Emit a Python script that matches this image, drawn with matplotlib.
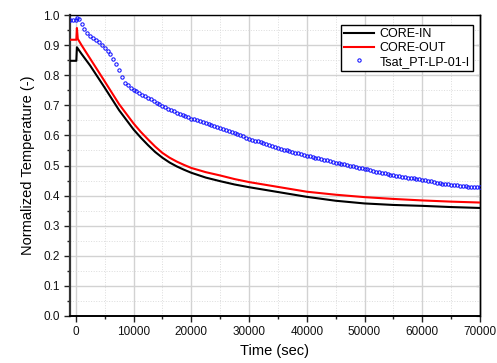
import numpy as np
import matplotlib
matplotlib.use('Agg')
import matplotlib.pyplot as plt
from matplotlib.ticker import MultipleLocator, FormatStrFormatter

plt.rcParams['font.family'] = ['Liberation Sans', 'DejaVu Sans']

# CORE-IN / CORE-OUT (time in sec, normalized temperature)
t_core_in = [-1000, 100, 200, 1000, 2500, 5000, 7500, 10000, 11250, 12500, 13750, 15000,
             16250, 17500, 18750, 20000, 22500, 25000, 27500, 30000, 35000, 40000,
             45000, 50000, 55000, 60000, 65000, 70000]
core_in = [0.848, 0.848, 0.893, 0.871, 0.832, 0.759, 0.684, 0.620, 0.593, 0.568, 0.545, 0.526,
           0.510, 0.497, 0.486, 0.476, 0.460, 0.448, 0.437, 0.428, 0.412, 0.396,
           0.383, 0.374, 0.369, 0.366, 0.362, 0.359]

t_core_out = [-1000, 100, 200, 350, 1000, 2500, 5000, 7500, 10000, 11250, 12500, 13750,
              15000, 16250, 17500, 18750, 20000, 22500, 25000, 27500, 30000, 35000,
              40000, 45000, 50000, 55000, 60000, 65000, 70000]
core_out = [0.918, 0.918, 0.957, 0.921, 0.900, 0.855, 0.780, 0.704, 0.640, 0.612, 0.587, 0.563,
            0.542, 0.526, 0.513, 0.502, 0.492, 0.478, 0.467, 0.455, 0.445, 0.429,
            0.413, 0.403, 0.395, 0.389, 0.384, 0.380, 0.377]

# Tsat_PT-LP-01-I points
t_tsat = [-1000, -500, 0, 250, 500, 1000, 1500, 2000, 2500, 3000, 3500, 4000, 4500,
          5000, 5500, 6000, 6500, 7000, 7500, 8000, 8500, 9000, 9500,
          10000, 10500, 11000, 11500, 12000, 12500, 13000, 13500, 14000, 14500,
          15000, 15500, 16000, 16500, 17000, 17500, 18000, 18500, 19000, 19500,
          20000, 20500, 21000, 21500, 22000, 22500, 23000, 23500, 24000, 24500,
          25000, 25500, 26000, 26500, 27000, 27500, 28000, 28500, 29000, 29500,
          30000, 30500, 31000, 31500, 32000, 32500, 33000, 33500, 34000, 34500,
          35000, 35500, 36000, 36500, 37000, 37500, 38000, 38500, 39000, 39500,
          40000, 40500, 41000, 41500, 42000, 42500, 43000, 43500, 44000, 44500,
          45000, 45500, 46000, 46500, 47000, 47500, 48000, 48500, 49000, 49500,
          50000, 50500, 51000, 51500, 52000, 52500, 53000, 53500, 54000, 54500,
          55000, 55500, 56000, 56500, 57000, 57500, 58000, 58500, 59000, 59500,
          60000, 60500, 61000, 61500, 62000, 62500, 63000, 63500, 64000, 64500,
          65000, 65500, 66000, 66500, 67000, 67500, 68000, 68500, 69000, 69500,
          70000]
tsat = [0.983, 0.983, 0.985, 0.991, 0.986, 0.969, 0.955, 0.942, 0.932, 0.924, 0.917, 0.909, 0.901,
        0.892, 0.882, 0.872, 0.855, 0.836, 0.816, 0.793, 0.775, 0.766, 0.758,
        0.752, 0.748, 0.740, 0.735, 0.730, 0.726, 0.720, 0.715, 0.709, 0.704,
        0.698, 0.693, 0.689, 0.685, 0.681, 0.676, 0.672, 0.668, 0.664, 0.660,
        0.656, 0.653, 0.650, 0.647, 0.644, 0.641, 0.638, 0.635, 0.632, 0.629,
        0.626, 0.622, 0.618, 0.615, 0.611, 0.607, 0.604, 0.600, 0.597, 0.593,
        0.589, 0.586, 0.583, 0.580, 0.577, 0.574, 0.571, 0.568, 0.565, 0.562,
        0.559, 0.556, 0.553, 0.551, 0.548, 0.545, 0.543, 0.540, 0.538, 0.535,
        0.533, 0.531, 0.528, 0.526, 0.524, 0.521, 0.519, 0.517, 0.514, 0.512,
        0.510, 0.508, 0.506, 0.504, 0.502, 0.500, 0.497, 0.495, 0.493, 0.491,
        0.489, 0.487, 0.485, 0.482, 0.480, 0.478, 0.476, 0.474, 0.472, 0.470,
        0.468, 0.466, 0.465, 0.463, 0.462, 0.460, 0.459, 0.457, 0.456, 0.454,
        0.453, 0.451, 0.449, 0.447, 0.445, 0.443, 0.441, 0.439, 0.438, 0.437,
        0.436, 0.435, 0.434, 0.433, 0.432, 0.431, 0.430, 0.430, 0.429, 0.429,
        0.428]

fig = plt.figure(figsize=(4.97, 3.63), dpi=100)
ax = fig.add_axes([0.1408, 0.1295, 0.8250, 0.829])

ax.plot(t_core_in, core_in, color='black', lw=1.5, label='CORE-IN', zorder=3)
ax.plot(t_core_out, core_out, color='#ff0000', lw=1.5, label='CORE-OUT', zorder=3)
ax.plot(t_tsat, tsat, ls='none', marker='o', ms=2.4, mfc='none', mec='#1010ff', mew=0.75,
        label='Tsat_PT-LP-01-I', zorder=4)

ax.set_xlim(-1000, 70000)
ax.set_ylim(0.0, 1.0)
ax.xaxis.set_major_locator(MultipleLocator(10000))
ax.xaxis.set_minor_locator(MultipleLocator(5000))
ax.yaxis.set_major_locator(MultipleLocator(0.1))
ax.yaxis.set_minor_locator(MultipleLocator(0.05))
ax.yaxis.set_major_formatter(FormatStrFormatter('%.1f'))

# grid: solid major, dotted minor
ax.grid(which='major', color='#d2d2d2', lw=1.0, ls='-', zorder=0)
ax.grid(which='minor', color='#dcdcdc', lw=0.7, ls=':', zorder=0)
ax.set_axisbelow(True)

ax.tick_params(which='major', direction='out', length=4, width=1, labelsize=8.5,
               colors='#222222', labelcolor='#111111')
ax.tick_params(which='minor', direction='out', length=2.5, width=1, colors='#222222')

# small inward ticks on the right side
sec = ax.secondary_yaxis('right')
sec.yaxis.set_major_locator(MultipleLocator(0.1))
sec.tick_params(direction='in', length=3, width=0.8, labelright=False)
sec.tick_params(which='minor', length=0)
sec.spines['right'].set_linewidth(1.0)

ax.spines['left'].set_color('#333333')
ax.spines['left'].set_linewidth(1.6)
ax.spines['bottom'].set_linewidth(1.4)
ax.spines['top'].set_linewidth(1.0)
ax.spines['right'].set_linewidth(1.0)

ax.set_xlabel('Time (sec)', fontsize=10.5, labelpad=4)
ax.set_ylabel('Normalized Temperature (-)', fontsize=10.5, labelpad=6)

leg = ax.legend(loc='upper right', bbox_to_anchor=(0.982, 0.967), fontsize=9,
                frameon=True, fancybox=False, framealpha=1, edgecolor='black',
                borderpad=0.25, labelspacing=0.15, handlelength=2.4,
                handletextpad=0.4, borderaxespad=0, markerscale=1.0)
leg.get_frame().set_linewidth(1.0)

fig.savefig('out.png', dpi=100)
